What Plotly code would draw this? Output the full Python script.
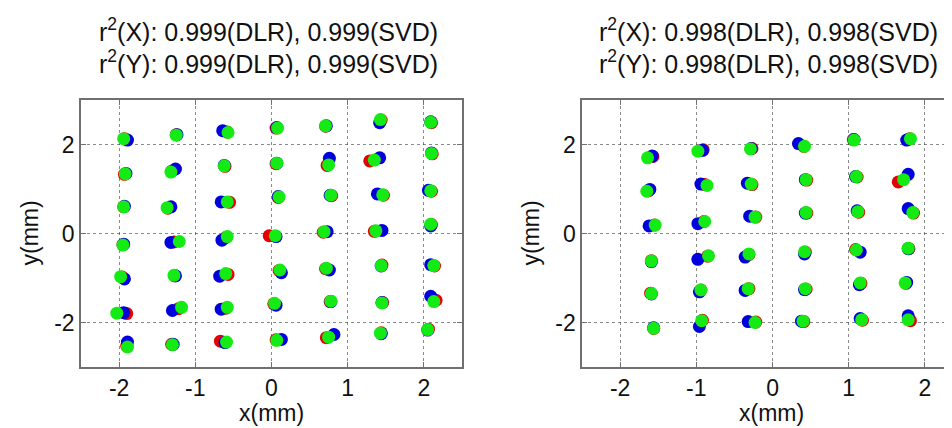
import plotly.graph_objects as go

# Step 1: Define the data (left panel, read column by column, top row first)
left_green_x = [-1.94, -1.92, -1.94, -1.95, -1.98, -2.03, -1.89,
                -1.25, -1.32, -1.37, -1.21, -1.28, -1.18, -1.30,
                -0.57, -0.62, -0.58, -0.58, -0.60, -0.58, -0.59,
                0.08, 0.07, 0.10, 0.05, 0.11, 0.04, 0.07,
                0.71, 0.75, 0.78, 0.69, 0.72, 0.78, 0.75,
                1.43, 1.35, 1.46, 1.37, 1.44, 1.45, 1.43,
                2.09, 2.10, 2.09, 2.09, 2.13, 2.13, 2.05]
left_green_y = [2.13, 1.34, 0.60, -0.26, -0.97, -1.79, -2.55,
                2.21, 1.38, 0.58, -0.18, -0.94, -1.66, -2.50,
                2.27, 1.52, 0.71, -0.07, -0.90, -1.66, -2.44,
                2.37, 1.58, 0.82, -0.05, -0.82, -1.57, -2.40,
                2.42, 1.54, 0.86, 0.04, -0.78, -1.52, -2.33,
                2.56, 1.65, 0.87, 0.06, -0.72, -1.56, -2.24,
                2.50, 1.80, 0.96, 0.21, -0.72, -1.53, -2.16]
left_blue_x = [-1.89, -1.91, -1.93, -1.94, -1.93, -1.94, -1.89,
               -1.24, -1.26, -1.32, -1.32, -1.26, -1.30, -1.29,
               -0.64, -0.62, -0.66, -0.65, -0.68, -0.66, -0.61,
               0.07, 0.07, 0.09, 0.06, 0.13, 0.06, 0.13,
               0.72, 0.76, 0.77, 0.73, 0.76, 0.78, 0.82,
               1.42, 1.42, 1.39, 1.45, 1.44, 1.45, 1.44,
               2.09, 2.10, 2.06, 2.09, 2.09, 2.09, 2.05]
left_blue_y = [2.10, 1.35, 0.61, -0.24, -1.02, -1.78, -2.44,
               2.22, 1.45, 0.60, -0.20, -0.95, -1.73, -2.49,
               2.31, 1.53, 0.71, -0.15, -0.96, -1.70, -2.45,
               2.38, 1.58, 0.83, -0.07, -0.88, -1.61, -2.38,
               2.42, 1.69, 0.86, 0.04, -0.82, -1.53, -2.27,
               2.49, 1.70, 0.89, 0.07, -0.73, -1.55, -2.25,
               2.51, 1.81, 0.97, 0.17, -0.70, -1.41, -2.17]
left_red_x = [-1.93, -1.93, -1.94, -1.95, -1.96, -1.90, -1.90,
              -1.25, -1.31, -1.36, -1.28, -1.27, -1.22, -1.31,
              -0.58, -0.61, -0.55, -0.60, -0.57, -0.60, -0.67,
              0.06, 0.06, 0.09, -0.03, 0.10, 0.03, 0.06,
              0.71, 0.73, 0.79, 0.68, 0.71, 0.77, 0.72,
              1.44, 1.29, 1.47, 1.35, 1.45, 1.46, 1.44,
              2.10, 2.11, 2.10, 2.10, 2.14, 2.16, 2.06]
left_red_y = [2.13, 1.33, 0.60, -0.25, -0.98, -1.80, -2.53,
              2.22, 1.40, 0.57, -0.19, -0.95, -1.69, -2.49,
              2.28, 1.51, 0.70, -0.09, -0.92, -1.68, -2.42,
              2.37, 1.57, 0.81, -0.05, -0.83, -1.58, -2.39,
              2.41, 1.53, 0.85, 0.03, -0.79, -1.53, -2.34,
              2.55, 1.63, 0.86, 0.05, -0.71, -1.55, -2.23,
              2.49, 1.79, 0.95, 0.20, -0.73, -1.50, -2.15]

# right panel
right_green_x = [-1.64, -1.65, -1.54, -1.59, -1.59, -1.56,
                 -0.98, -0.86, -0.89, -0.84, -0.94, -0.93,
                 -0.29, -0.28, -0.23, -0.31, -0.32, -0.23,
                 0.42, 0.44, 0.44, 0.42, 0.43, 0.40,
                 1.07, 1.10, 1.12, 1.10, 1.15, 1.17,
                 1.81, 1.72, 1.84, 1.78, 1.74, 1.78]
right_green_y = [1.70, 0.95, 0.19, -0.62, -1.35, -2.13,
                 1.85, 1.08, 0.27, -0.50, -1.27, -1.96,
                 1.90, 1.11, 0.37, -0.46, -1.24, -2.00,
                 1.96, 1.21, 0.47, -0.41, -1.24, -1.97,
                 2.10, 1.28, 0.49, -0.37, -1.11, -1.94,
                 2.13, 1.21, 0.47, -0.33, -1.11, -1.94]
right_blue_x = [-1.58, -1.61, -1.62, -1.59, -1.59, -1.56,
                -0.92, -0.94, -0.98, -0.98, -0.96, -0.96,
                -0.28, -0.33, -0.30, -0.36, -0.36, -0.32,
                0.34, 0.43, 0.43, 0.42, 0.42, 0.38,
                1.07, 1.09, 1.11, 1.15, 1.14, 1.15,
                1.76, 1.78, 1.78, 1.78, 1.76, 1.78]
right_blue_y = [1.74, 0.99, 0.17, -0.63, -1.36, -2.12,
                1.87, 1.11, 0.22, -0.58, -1.31, -2.09,
                1.91, 1.13, 0.39, -0.53, -1.28, -1.98,
                2.02, 1.21, 0.46, -0.46, -1.26, -1.97,
                2.11, 1.28, 0.51, -0.42, -1.15, -1.91,
                2.10, 1.33, 0.56, -0.34, -1.10, -1.85]
right_red_x = [-1.57, -1.63, -1.55, -1.59, -1.60, -1.56,
               -0.91, -0.89, -0.90, -0.85, -0.94, -0.92,
               -0.27, -0.27, -0.22, -0.31, -0.31, -0.22,
               0.41, 0.45, 0.45, 0.43, 0.44, 0.41,
               1.06, 1.11, 1.13, 1.09, 1.16, 1.18,
               1.80, 1.65, 1.85, 1.79, 1.75, 1.81]
right_red_y = [1.73, 0.96, 0.19, -0.61, -1.34, -2.13,
               1.88, 1.10, 0.27, -0.51, -1.27, -1.95,
               1.91, 1.10, 0.37, -0.47, -1.24, -1.99,
               1.96, 1.20, 0.46, -0.42, -1.25, -1.98,
               2.11, 1.27, 0.48, -0.36, -1.12, -1.95,
               2.13, 1.16, 0.46, -0.34, -1.12, -1.96]

left_title = ["r<sup>2</sup>(X): 0.999(DLR), 0.999(SVD)",
              "r<sup>2</sup>(Y): 0.999(DLR), 0.999(SVD)"]
right_title = ["r<sup>2</sup>(X): 0.998(DLR), 0.998(SVD)",
               "r<sup>2</sup>(Y): 0.998(DLR), 0.998(SVD)"]
tick_vals = [-2, -1, 0, 1, 2]
tick_text = ["-2", "-1", "0", "1", "2"]
y_tick_vals = [-2, 0, 2]
y_tick_text = ["-2", "0", "2"]

RED = "rgb(230,0,0)"
BLUE = "rgb(0,0,220)"
GREEN = "rgb(20,235,20)"
FONT = "Liberation Sans, Arial, sans-serif"

fig = go.Figure()

# Step 2: scatter markers, red first, green on top
panels = [
    ("x", "y", left_red_x, left_red_y, left_blue_x, left_blue_y, left_green_x, left_green_y),
    ("x2", "y2", right_red_x, right_red_y, right_blue_x, right_blue_y, right_green_x, right_green_y),
]
for xa, ya, rx, ry, bx, by, gx, gy in panels:
    for xs, ys, col in [(rx, ry, RED), (bx, by, BLUE), (gx, gy, GREEN)]:
        fig.add_trace(go.Scatter(
            x=xs, y=ys, xaxis=xa, yaxis=ya, mode="markers",
            marker=dict(size=13, color=col, line=dict(width=0)),
            showlegend=False, hoverinfo="skip"))

# Step 3: axes
axis_common = dict(
    showgrid=True, gridcolor="rgba(60,60,60,0.6)", griddash="dot", gridwidth=1,
    showline=True, linecolor="#707070", linewidth=1.5,
    ticks="inside", ticklen=5, tickcolor="#707070",
    zeroline=False, tickfont=dict(family=FONT, size=23, color="#111"),
)
fig.update_layout(
    xaxis=dict(domain=[0, 0.4334], range=[-2.5, 2.5], tickvals=tick_vals, ticktext=tick_text,
               mirror="allticks", anchor="y", **axis_common),
    yaxis=dict(domain=[0, 1], range=[-3, 3], tickvals=y_tick_vals, ticktext=y_tick_text,
               mirror="allticks", anchor="x", **axis_common),
    xaxis2=dict(domain=[0.57, 1], range=[-2.5, 2.46], tickvals=tick_vals, ticktext=tick_text,
                mirror="allticks", anchor="y2", **axis_common),
    yaxis2=dict(domain=[0, 1], range=[-3, 3], tickvals=y_tick_vals, ticktext=y_tick_text,
                mirror=False, anchor="x2", **axis_common),
)

# Step 4: titles and labels
annotations = []
for xref, lines in [("x domain", left_title), ("x2 domain", right_title)]:
    for i, line in enumerate(lines):
        annotations.append(dict(
            text=line, xref=xref, x=0.5, yref="paper", y=1, yanchor="middle",
            xshift=-3, yshift=70 - 32 * i, showarrow=False,
            font=dict(family=FONT, size=25, color="#111")))
for xref in ["x domain", "x2 domain"]:
    annotations.append(dict(
        text="x(mm)", xref=xref, x=0.5, yref="paper", y=0, yanchor="middle",
        yshift=-46, showarrow=False, font=dict(family=FONT, size=23, color="#111")))
    annotations.append(dict(
        text="y(mm)", xref=xref, x=0, yref="paper", y=0.5, xanchor="center",
        xshift=-52, textangle=-90, showarrow=False,
        font=dict(family=FONT, size=23, color="#111")))

fig.update_layout(
    annotations=annotations,
    width=952, height=428,
    margin=dict(l=73, r=0, t=92, b=69),
    plot_bgcolor="white", paper_bgcolor="white",
)

fig.write_html("out.html")
